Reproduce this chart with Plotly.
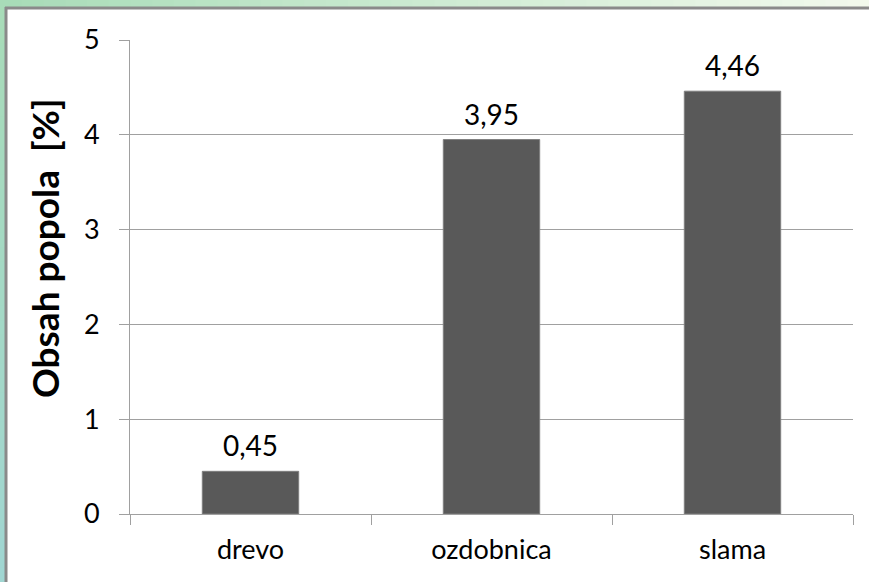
import plotly.graph_objects as go

# Ash content by fuel type
categories = ["drevo", "ozdobnica", "slama"]
ash_content = [0.45, 3.95, 4.46]
y_ticks = [0, 1, 2, 3, 4, 5]

W, H = 869, 582
L, R, T, B = 130, 16, 40, 68
PW, PH = W - L - R, H - T - B


def px_x(x):
    return (x - L) / PW


def px_y(y):
    return (H - B - y) / PH


def lerp(c1, c2, t):
    return "rgb({},{},{})".format(*[round(a + (b - a) * t) for a, b in zip(c1, c2)])


fig = go.Figure()
fig.add_trace(go.Bar(
    x=categories,
    y=ash_content,
    width=0.4,
    marker=dict(color="#595959", line=dict(color="#7f7f7f", width=1)),
    hoverinfo="skip",
))

shapes = []
# green frame around the chart: top strip fades to the right, left strip to teal
n = 40
top_a, top_b = (168, 220, 184), (242, 249, 236)
for i in range(n):
    x0 = i * W / n
    x1 = min((i + 1) * W / n + 1, W)
    shapes.append(dict(type="rect", xref="paper", yref="paper", layer="below",
                       x0=px_x(x0), x1=px_x(x1), y0=px_y(9), y1=px_y(0),
                       fillcolor=lerp(top_a, top_b, i / (n - 1)), line=dict(width=0)))
left_a, left_b = (168, 220, 184), (160, 214, 210)
for i in range(n):
    y0 = i * H / n
    y1 = min((i + 1) * H / n + 1, H)
    shapes.append(dict(type="rect", xref="paper", yref="paper", layer="below",
                       x0=px_x(0), x1=px_x(7), y0=px_y(y1), y1=px_y(y0),
                       fillcolor=lerp(left_a, left_b, i / (n - 1)), line=dict(width=0)))
# grey border of the white chart area
shapes.append(dict(type="line", xref="paper", yref="paper", layer="below",
                   x0=px_x(5), x1=px_x(W), y0=px_y(8), y1=px_y(8),
                   line=dict(color="#8a8a8a", width=3)))
shapes.append(dict(type="line", xref="paper", yref="paper", layer="below",
                   x0=px_x(6), x1=px_x(6), y0=px_y(7), y1=px_y(H),
                   line=dict(color="#8a8a8a", width=3)))

annotations = [
    dict(x=c, y=v, text=f"{v:.2f}".replace(".", ","), showarrow=False,
         yanchor="bottom", yshift=7, font=dict(size=28, color="#000000"))
    for c, v in zip(categories, ash_content)
]
annotations.append(dict(
    x=px_x(44), y=px_y(248), xref="paper", yref="paper",
    xanchor="center", yanchor="middle",
    text="<b>Obsah popola  [%]</b>", textangle=-90, showarrow=False,
    font=dict(size=37, color="#000000"),
))

fig.update_layout(
    width=W, height=H,
    margin=dict(l=L, r=R, t=T, b=B, pad=0),
    paper_bgcolor="#ffffff",
    plot_bgcolor="#ffffff",
    font=dict(family="Lato, 'Open Sans', sans-serif", size=27, color="#000000"),
    showlegend=False,
    bargap=0.6,
    shapes=shapes,
    annotations=annotations,
    separators=", ",
)
fig.update_xaxes(
    showgrid=False,
    showline=True, linecolor="#a0a0a0", linewidth=1,
    ticks="outside", ticklen=10, tickcolor="#a0a0a0", tickwidth=1,
    tickson="boundaries",
    ticklabelstandoff=12,
    tickfont=dict(size=27),
)
fig.update_yaxes(
    range=[0, 5],
    tickvals=y_ticks,
    showgrid=True, gridcolor="#a0a0a0", gridwidth=1,
    showline=True, linecolor="#a0a0a0", linewidth=1,
    ticks="outside", ticklen=10, tickcolor="#a0a0a0", tickwidth=1,
    ticklabelstandoff=14,
    zeroline=False,
    tickfont=dict(size=27),
)

fig.write_html("out.html")
